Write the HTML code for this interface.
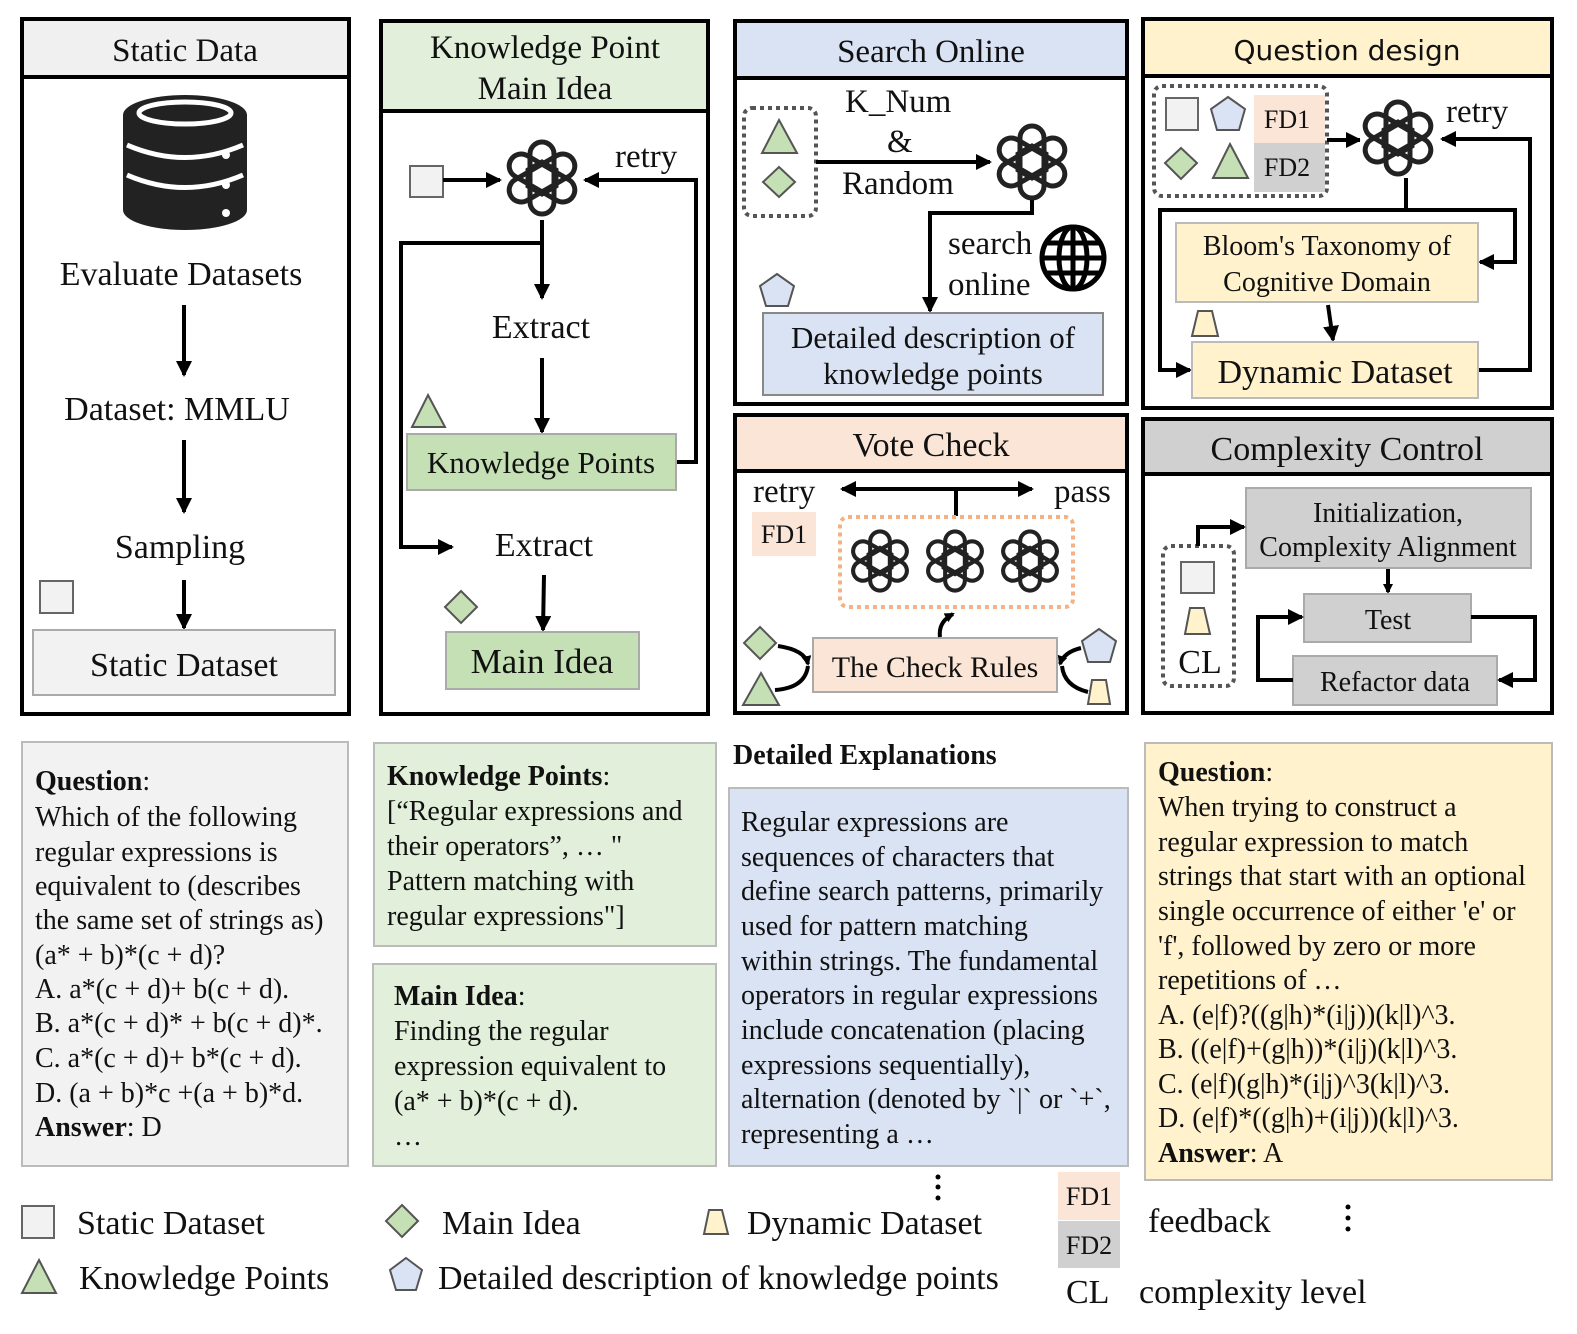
<!DOCTYPE html>
<html><head><meta charset="utf-8"><style>
html,body{margin:0;background:#fff;overflow:hidden}
svg{display:block}
text{font-family:"Liberation Serif",serif;fill:#111}
.s{font-family:"DejaVu Sans","Liberation Sans",sans-serif}
</style></head><body>
<svg width="1577" height="1334" viewBox="0 0 1577 1334" xmlns="http://www.w3.org/2000/svg">
<defs>
<marker id="ah" markerWidth="10" markerHeight="10" refX="8" refY="5" orient="auto" markerUnits="userSpaceOnUse"><path d="M0,0 L10,5 L0,10z" fill="#000"/></marker>
<marker id="a2" markerWidth="16" markerHeight="16" refX="14" refY="8" orient="auto" markerUnits="userSpaceOnUse"><path d="M0,0 L16,8 L0,16z" fill="#000"/></marker>
<g id="oa">
<circle r="38" fill="#fff"/>
<g fill="none" stroke="#222" stroke-width="5">
<rect x="-12" y="-36" width="24" height="72" rx="12"/>
<rect x="-12" y="-36" width="24" height="72" rx="12" transform="rotate(60)"/>
<rect x="-12" y="-36" width="24" height="72" rx="12" transform="rotate(120)"/>
<polygon points="0,-16 14,-8 14,8 0,16 -14,8 -14,-8"/>
</g>
</g>
</defs>

<!-- Panel 1 -->
<rect x="22" y="19" width="327" height="695" fill="#fff" stroke="#000" stroke-width="4"/>
<rect x="22" y="19" width="327" height="58" fill="#f0f0f0" stroke="#000" stroke-width="4"/>
<text x="185" y="61" font-size="33" text-anchor="middle">Static Data</text>
<g fill="#222">
<ellipse cx="185" cy="115" rx="62" ry="20"/>
<rect x="123" y="115" width="124" height="95"/>
<ellipse cx="185" cy="210" rx="62" ry="20"/>
</g>
<g fill="none" stroke="#fff" stroke-width="5">
<path d="M127,145 Q185,170 243,145"/><path d="M127,175 Q185,200 243,175"/>
<ellipse cx="185" cy="113" rx="46" ry="11"/>
</g>
<circle cx="226" cy="155" r="4" fill="#fff"/><circle cx="226" cy="185" r="4" fill="#fff"/><circle cx="226" cy="213" r="4" fill="#fff"/>
<text x="181" y="285" font-size="34" text-anchor="middle">Evaluate Datasets</text>
<line x1="184" y1="305" x2="184" y2="375" stroke="#000" stroke-width="4" marker-end="url(#a2)"/>
<text x="177" y="420" font-size="34" text-anchor="middle">Dataset: MMLU</text>
<line x1="184" y1="440" x2="184" y2="512" stroke="#000" stroke-width="4" marker-end="url(#a2)"/>
<text x="180" y="558" font-size="34" text-anchor="middle">Sampling</text>
<rect x="40" y="581" width="33" height="32" fill="#f2f2f2" stroke="#666" stroke-width="2"/>
<line x1="184" y1="580" x2="184" y2="628" stroke="#000" stroke-width="4" marker-end="url(#a2)"/>
<rect x="33" y="630" width="302" height="65" fill="#f2f2f2" stroke="#aaa" stroke-width="2"/>
<text x="184" y="676" font-size="34" text-anchor="middle">Static Dataset</text>

<!-- Panel 2 -->
<rect x="381" y="21" width="327" height="693" fill="#fff" stroke="#000" stroke-width="4"/>
<rect x="381" y="21" width="327" height="90" fill="#e2efda" stroke="#000" stroke-width="4"/>
<text x="545" y="58" font-size="33" text-anchor="middle">Knowledge Point</text>
<text x="545" y="99" font-size="33" text-anchor="middle">Main Idea</text>
<rect x="410" y="166" width="33" height="31" fill="#f2f2f2" stroke="#666" stroke-width="2"/>
<line x1="443" y1="180" x2="500" y2="180" stroke="#000" stroke-width="4" marker-end="url(#a2)"/>
<use href="#oa" x="542" y="178"/>
<text x="615" y="167" font-size="33">retry</text>
<polyline points="676,462 696,462 696,180 585,180" fill="none" stroke="#000" stroke-width="4" marker-end="url(#a2)"/>
<line x1="542" y1="220" x2="542" y2="298" stroke="#000" stroke-width="4" marker-end="url(#a2)"/>
<polyline points="542,243 401,243 401,547 452,547" fill="none" stroke="#000" stroke-width="4" marker-end="url(#a2)"/>
<text x="541" y="338" font-size="34" text-anchor="middle">Extract</text>
<line x1="542" y1="358" x2="542" y2="432" stroke="#000" stroke-width="4" marker-end="url(#a2)"/>
<polygon points="428,395 445,427 412,427" fill="#c5e0b4" stroke="#555" stroke-width="2"/>
<rect x="407" y="434" width="269" height="56" fill="#c5e0b4" stroke="#aaa" stroke-width="2"/>
<text x="541" y="473" font-size="31" text-anchor="middle">Knowledge Points</text>
<text x="544" y="556" font-size="34" text-anchor="middle">Extract</text>
<line x1="544" y1="575" x2="543" y2="630" stroke="#000" stroke-width="4" marker-end="url(#a2)"/>
<polygon points="461,591 477,607 461,623 445,607" fill="#c5e0b4" stroke="#555" stroke-width="2"/>
<rect x="446" y="632" width="193" height="57" fill="#c5e0b4" stroke="#aaa" stroke-width="2"/>
<text x="542" y="673" font-size="35" text-anchor="middle">Main Idea</text>

<!-- Panel 3 -->
<rect x="735" y="21" width="392" height="383" fill="#fff" stroke="#000" stroke-width="4"/>
<rect x="735" y="21" width="392" height="57" fill="#dae3f3" stroke="#000" stroke-width="4"/>
<text x="931" y="62" font-size="33" text-anchor="middle">Search Online</text>
<rect x="744" y="108" width="72" height="108" rx="8" fill="none" stroke="#555" stroke-width="4" stroke-dasharray="4,4"/>
<polygon points="779,120 797,153 762,153" fill="#c5e0b4" stroke="#555" stroke-width="2"/>
<polygon points="779,167 795,182 779,197 763,182" fill="#c5e0b4" stroke="#555" stroke-width="2"/>
<text x="845" y="112" font-size="33">K_Num</text>
<text x="887" y="152" font-size="33">&amp;</text>
<text x="842" y="194" font-size="33">Random</text>
<line x1="816" y1="162" x2="990" y2="162" stroke="#000" stroke-width="4" marker-end="url(#a2)"/>
<use href="#oa" x="1032" y="162"/>
<polyline points="1032,200 1032,213 930,213 930,311" fill="none" stroke="#000" stroke-width="4" marker-end="url(#a2)"/>
<text x="948" y="254" font-size="33">search</text>
<text x="948" y="295" font-size="33">online</text>
<g fill="none" stroke="#000" stroke-width="5">
<circle cx="1073" cy="258" r="31"/><ellipse cx="1073" cy="258" rx="14" ry="31"/>
<line x1="1073" y1="227" x2="1073" y2="289"/><line x1="1042" y1="258" x2="1104" y2="258"/>
<line x1="1047" y1="243" x2="1099" y2="243"/><line x1="1047" y1="273" x2="1099" y2="273"/>
</g>
<polygon points="777,274 794,286 788,306 766,306 760,286" fill="#dae3f3" stroke="#555" stroke-width="2"/>
<rect x="763" y="313" width="340" height="82" fill="#dae3f3" stroke="#888" stroke-width="2"/>
<text x="933" y="348" font-size="31" text-anchor="middle">Detailed description of</text>
<text x="933" y="384" font-size="31" text-anchor="middle">knowledge points</text>

<!-- Panel 4 -->
<rect x="1143" y="19" width="409" height="389" fill="#fff" stroke="#000" stroke-width="4"/>
<rect x="1143" y="19" width="409" height="57" fill="#fff2cc" stroke="#000" stroke-width="4"/>
<text x="1347" y="60" font-size="28" text-anchor="middle" class="s">Question design</text>
<rect x="1154" y="86" width="173" height="110" rx="8" fill="none" stroke="#555" stroke-width="4" stroke-dasharray="4,4"/>
<rect x="1166" y="98" width="32" height="32" fill="#f2f2f2" stroke="#666" stroke-width="2"/>
<polygon points="1228,97 1245,109 1239,130 1217,130 1211,109" fill="#dae3f3" stroke="#555" stroke-width="2"/>
<rect x="1254" y="95" width="71" height="48" fill="#fbe5d6"/>
<rect x="1254" y="143" width="71" height="49" fill="#d0d0d0"/>
<text x="1287" y="128" font-size="26" text-anchor="middle">FD1</text>
<text x="1287" y="176" font-size="26" text-anchor="middle">FD2</text>
<polygon points="1181,148 1197,163 1181,179 1165,163" fill="#c5e0b4" stroke="#555" stroke-width="2"/>
<polygon points="1230,144 1248,178 1213,178" fill="#c5e0b4" stroke="#555" stroke-width="2"/>
<line x1="1327" y1="140" x2="1360" y2="140" stroke="#000" stroke-width="4" marker-end="url(#a2)"/>
<use href="#oa" x="1398" y="138"/>
<text x="1446" y="122" font-size="33">retry</text>
<polyline points="1478,370 1530,370 1530,139 1442,139" fill="none" stroke="#000" stroke-width="4" marker-end="url(#a2)"/>
<line x1="1406" y1="178" x2="1406" y2="210" stroke="#000" stroke-width="4"/>
<polyline points="1160,210 1515,210 1515,262 1480,262" fill="none" stroke="#000" stroke-width="4" marker-end="url(#a2)"/>
<polyline points="1160,208 1160,370 1190,370" fill="none" stroke="#000" stroke-width="4" marker-end="url(#a2)"/>
<rect x="1176" y="223" width="302" height="79" fill="#fff2cc" stroke="#bbb" stroke-width="2"/>
<text x="1327" y="255" font-size="28" text-anchor="middle">Bloom's Taxonomy of</text>
<text x="1327" y="291" font-size="28" text-anchor="middle">Cognitive Domain</text>
<polygon points="1198,311 1212,311 1218,336 1192,336" fill="#fff2cc" stroke="#555" stroke-width="2"/>
<line x1="1328" y1="305" x2="1333" y2="340" stroke="#000" stroke-width="4" marker-end="url(#a2)"/>
<rect x="1192" y="342" width="286" height="56" fill="#fff2cc" stroke="#bbb" stroke-width="2"/>
<text x="1335" y="383" font-size="34" text-anchor="middle">Dynamic Dataset</text>

<!-- Panel 5 -->
<rect x="735" y="415" width="392" height="298" fill="#fff" stroke="#000" stroke-width="4"/>
<rect x="735" y="415" width="392" height="56" fill="#fbe5d6" stroke="#000" stroke-width="4"/>
<text x="931" y="456" font-size="34" text-anchor="middle">Vote Check</text>
<text x="753" y="502" font-size="33">retry</text>
<text x="1054" y="502" font-size="33">pass</text>
<line x1="956" y1="489" x2="842" y2="489" stroke="#000" stroke-width="4" marker-end="url(#a2)"/>
<line x1="956" y1="489" x2="1032" y2="489" stroke="#000" stroke-width="4" marker-end="url(#a2)"/>
<line x1="956" y1="489" x2="956" y2="516" stroke="#000" stroke-width="4"/>
<rect x="752" y="512" width="64" height="44" fill="#fbe5d6"/>
<text x="784" y="543" font-size="26" text-anchor="middle">FD1</text>
<rect x="840" y="517" width="233" height="90" rx="8" fill="none" stroke="#f4b183" stroke-width="4" stroke-dasharray="4,4"/>
<g transform="translate(880,561) scale(0.82)"><use href="#oa"/></g>
<g transform="translate(955,561) scale(0.82)"><use href="#oa"/></g>
<g transform="translate(1030,561) scale(0.82)"><use href="#oa"/></g>
<rect x="813" y="638" width="244" height="54" fill="#fbe5d6" stroke="#aaa" stroke-width="2"/>
<text x="935" y="677" font-size="30" text-anchor="middle">The Check Rules</text>
<path d="M940,637 Q938,622 953,614" fill="none" stroke="#000" stroke-width="4" marker-end="url(#ah)"/>
<polygon points="760,627 776,643 760,659 744,643" fill="#c5e0b4" stroke="#555" stroke-width="2"/>
<polygon points="761,673 779,705 743,705" fill="#c5e0b4" stroke="#555" stroke-width="2"/>
<path d="M778,646 Q805,650 808,664" fill="none" stroke="#000" stroke-width="4" marker-end="url(#ah)"/>
<path d="M775,690 Q805,688 808,666" fill="none" stroke="#000" stroke-width="4"/>
<polygon points="1099,629 1116,641 1110,662 1088,662 1082,641" fill="#dae3f3" stroke="#555" stroke-width="2"/>
<polygon points="1092,680 1106,680 1110,704 1088,704" fill="#fff2cc" stroke="#555" stroke-width="2"/>
<path d="M1081,648 Q1064,652 1060,664" fill="none" stroke="#000" stroke-width="4" marker-end="url(#ah)"/>
<path d="M1088,692 Q1064,686 1062,666" fill="none" stroke="#000" stroke-width="4"/>

<!-- Panel 6 -->
<rect x="1143" y="419" width="409" height="294" fill="#fff" stroke="#000" stroke-width="4"/>
<rect x="1143" y="419" width="409" height="55" fill="#d0d0d0" stroke="#000" stroke-width="4"/>
<text x="1347" y="460" font-size="34" text-anchor="middle">Complexity Control</text>
<rect x="1246" y="488" width="285" height="80" fill="#d0d0d0" stroke="#aaa" stroke-width="2"/>
<text x="1388" y="522" font-size="28" text-anchor="middle">Initialization,</text>
<text x="1388" y="556" font-size="28" text-anchor="middle">Complexity Alignment</text>
<rect x="1163" y="546" width="71" height="140" rx="8" fill="none" stroke="#555" stroke-width="4" stroke-dasharray="4,4"/>
<rect x="1181" y="562" width="33" height="31" fill="#f2f2f2" stroke="#666" stroke-width="2"/>
<polygon points="1190,608 1204,608 1210,634 1185,634" fill="#fff2cc" stroke="#555" stroke-width="2"/>
<text x="1200" y="673" font-size="34" text-anchor="middle">CL</text>
<polyline points="1198,546 1198,527 1244,527" fill="none" stroke="#000" stroke-width="4" marker-end="url(#a2)"/>
<line x1="1388" y1="569" x2="1388" y2="592" stroke="#000" stroke-width="4" marker-end="url(#ah)"/>
<rect x="1304" y="594" width="167" height="48" fill="#d0d0d0" stroke="#aaa" stroke-width="2"/>
<text x="1388" y="629" font-size="28" text-anchor="middle">Test</text>
<rect x="1293" y="656" width="204" height="49" fill="#d0d0d0" stroke="#aaa" stroke-width="2"/>
<text x="1395" y="691" font-size="28" text-anchor="middle">Refactor data</text>
<polyline points="1293,680 1258,680 1258,617 1302,617" fill="none" stroke="#000" stroke-width="4" marker-end="url(#a2)"/>
<polyline points="1471,617 1535,617 1535,680 1499,680" fill="none" stroke="#000" stroke-width="4" marker-end="url(#a2)"/>

<!-- Bottom boxes -->
<rect x="22" y="742" width="326" height="424" fill="#f2f2f2" stroke="#bbb" stroke-width="2"/>
<g font-size="28">
<text x="35" y="790"><tspan font-weight="bold">Question</tspan>:</text>
<text x="35" y="826">Which of the following</text>
<text x="35" y="861">regular expressions is</text>
<text x="35" y="895">equivalent to (describes</text>
<text x="35" y="929">the same set of strings as)</text>
<text x="35" y="964">(a* + b)*(c + d)?</text>
<text x="35" y="998">A. a*(c + d)+ b(c + d).</text>
<text x="35" y="1032">B. a*(c + d)* + b(c + d)*.</text>
<text x="35" y="1067">C. a*(c + d)+ b*(c + d).</text>
<text x="35" y="1102">D. (a + b)*c +(a + b)*d.</text>
<text x="35" y="1136"><tspan font-weight="bold">Answer</tspan>:  D</text>
</g>
<rect x="374" y="743" width="342" height="203" fill="#e2efda" stroke="#bbb" stroke-width="2"/>
<g font-size="28">
<text x="387" y="785"><tspan font-weight="bold">Knowledge Points</tspan>:</text>
<text x="387" y="820">[“Regular expressions and</text>
<text x="387" y="855">their operators”, … "</text>
<text x="387" y="890">Pattern matching with</text>
<text x="387" y="925">regular expressions"]</text>
</g>
<rect x="373" y="964" width="343" height="202" fill="#e2efda" stroke="#bbb" stroke-width="2"/>
<g font-size="28">
<text x="394" y="1005"><tspan font-weight="bold">Main Idea</tspan>:</text>
<text x="394" y="1040">Finding the regular</text>
<text x="394" y="1075">expression equivalent to</text>
<text x="394" y="1110">(a* + b)*(c + d).</text>
<text x="394" y="1145">…</text>
</g>
<text x="733" y="764" font-size="28" font-weight="bold">Detailed Explanations</text>
<rect x="729" y="788" width="399" height="378" fill="#dae3f3" stroke="#bbb" stroke-width="2"/>
<g font-size="28">
<text x="741" y="831">Regular expressions are</text>
<text x="741" y="866">sequences of characters that</text>
<text x="741" y="900">define search patterns, primarily</text>
<text x="741" y="935">used for pattern matching</text>
<text x="741" y="970">within strings. The fundamental</text>
<text x="741" y="1004">operators in regular expressions</text>
<text x="741" y="1039">include concatenation (placing</text>
<text x="741" y="1074">expressions sequentially),</text>
<text x="741" y="1108">alternation (denoted by `|` or `+`,</text>
<text x="741" y="1143">representing a …</text>
</g>
<rect x="1145" y="743" width="407" height="437" fill="#fff2cc" stroke="#bbb" stroke-width="2"/>
<g font-size="28">
<text x="1158" y="781"><tspan font-weight="bold">Question</tspan>:</text>
<text x="1158" y="816">When trying to construct a</text>
<text x="1158" y="851">regular expression to match</text>
<text x="1158" y="885">strings that start with an optional</text>
<text x="1158" y="920">single occurrence of either 'e' or</text>
<text x="1158" y="955">'f', followed by zero or more</text>
<text x="1158" y="989">repetitions of …</text>
<text x="1158" y="1024">A. (e|f)?((g|h)*(i|j))(k|l)^3.</text>
<text x="1158" y="1058">B. ((e|f)+(g|h))*(i|j)(k|l)^3.</text>
<text x="1158" y="1093">C. (e|f)(g|h)*(i|j)^3(k|l)^3.</text>
<text x="1158" y="1127">D. (e|f)*((g|h)+(i|j))(k|l)^3.</text>
<text x="1158" y="1162"><tspan font-weight="bold">Answer</tspan>:  A</text>
</g>

<!-- Legend -->
<rect x="22" y="1206" width="32" height="32" fill="#f2f2f2" stroke="#666" stroke-width="2"/>
<text x="77" y="1234" font-size="34">Static Dataset</text>
<polygon points="39,1260 56,1293 22,1293" fill="#c5e0b4" stroke="#555" stroke-width="2"/>
<text x="79" y="1289" font-size="34">Knowledge Points</text>
<polygon points="402,1205 418,1221 402,1237 386,1221" fill="#c5e0b4" stroke="#555" stroke-width="2"/>
<text x="442" y="1234" font-size="34">Main Idea</text>
<polygon points="406,1258 422,1270 416,1290 396,1290 390,1270" fill="#dae3f3" stroke="#555" stroke-width="2"/>
<text x="438" y="1289" font-size="34">Detailed description of knowledge points</text>
<polygon points="709,1210 722,1210 728,1234 704,1234" fill="#fff2cc" stroke="#555" stroke-width="2"/>
<text x="747" y="1234" font-size="34">Dynamic Dataset</text>
<g fill="#000"><circle cx="938" cy="1177" r="2.5"/><circle cx="938" cy="1187" r="2.5"/><circle cx="938" cy="1198" r="2.5"/>
<circle cx="1348" cy="1207" r="2.5"/><circle cx="1348" cy="1218" r="2.5"/><circle cx="1348" cy="1229" r="2.5"/></g>
<rect x="1058" y="1172" width="62" height="48" fill="#fbe5d6"/>
<rect x="1058" y="1221" width="62" height="47" fill="#d0d0d0"/>
<text x="1089" y="1205" font-size="26" text-anchor="middle">FD1</text>
<text x="1089" y="1254" font-size="26" text-anchor="middle">FD2</text>
<text x="1148" y="1232" font-size="34">feedback</text>
<text x="1066" y="1303" font-size="34">CL</text>
<text x="1139" y="1303" font-size="34">complexity level</text>
</svg>
</body></html>
